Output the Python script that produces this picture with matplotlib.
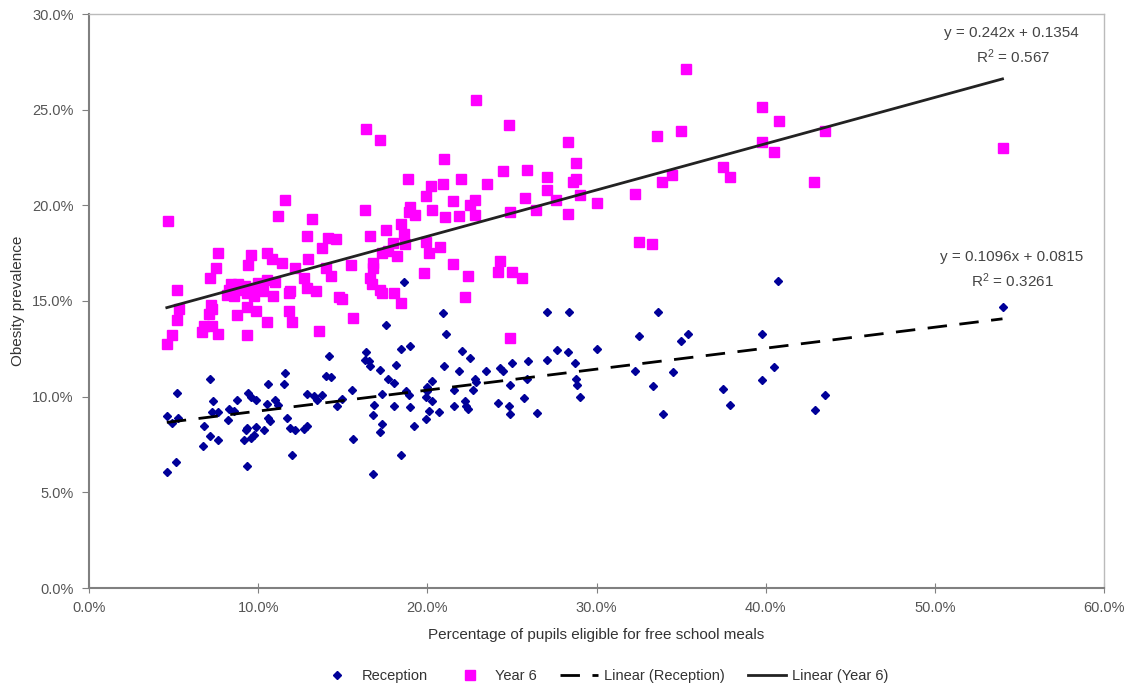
import numpy as np
import matplotlib
matplotlib.use("Agg")
import matplotlib.pyplot as plt
from matplotlib.ticker import FuncFormatter, MultipleLocator

plt.rcParams['font.family'] = ['Liberation Sans', 'DejaVu Sans']

# % eligible for free school meals, % obese  (Reception)
rec_x = [14.18, 11.58, 7.16, 14.0, 14.3, 10.58, 11.5, 5.23, 9.42, 9.56, 9.9, 12.9, 13.3, 13.8, 13.5,
         7.35, 8.73, 10.5, 11.0, 11.2, 14.67, 8.28, 8.57, 7.3, 7.63, 4.6, 5.27, 4.9, 11.7, 10.6,
         10.7, 8.24, 6.8, 9.36, 9.85, 9.26, 10.34, 11.9, 12.15, 12.9, 12.7, 9.75, 9.56, 7.16, 7.63,
         9.17, 6.74, 11.98, 5.17, 9.36, 4.6,
         20.9, 27.06, 17.56, 21.08, 18.47, 18.95, 16.4, 16.3, 16.54, 16.64, 22.05, 22.54, 25.0, 25.93,
         17.2, 18.17, 21.0, 21.9, 23.46, 24.3, 24.5, 27.1, 17.7, 18.0, 20.27, 20.0, 19.98, 22.8,
         22.9, 22.7, 25.9, 24.9, 15.56, 18.76, 18.9, 21.55, 17.3, 14.96, 19.9, 20.3, 16.83, 16.78,
         18.05, 19.0, 20.1, 19.9, 20.7, 21.55, 22.2, 22.3, 22.4, 24.2, 24.8, 24.9, 25.7, 26.5,
         17.3, 17.2, 19.2, 15.6, 18.47, 16.8, 18.6,
         28.35, 33.65, 32.5, 35.0, 35.4, 39.8, 27.65, 28.3, 30.05, 28.7, 28.8, 28.87, 29.0, 32.3,
         33.35, 34.5, 33.94, 40.5, 39.8, 37.5, 37.9, 42.9, 43.5, 54.0, 40.7]
rec_y = [12.15, 11.24, 10.9, 11.07, 11.03, 10.68, 10.68, 10.19, 10.19, 9.98, 9.8, 10.16, 10.05, 10.1, 9.84,
         9.75, 9.84, 9.63, 9.8, 9.58, 9.5, 9.37, 9.23, 9.18, 9.18, 9.0, 8.88, 8.62, 8.88, 8.88,
         8.74, 8.8, 8.48, 8.36, 8.41, 8.27, 8.27, 8.36, 8.24, 8.48, 8.31, 8.0, 7.84, 7.96, 7.75,
         7.75, 7.43, 6.93, 6.61, 6.39, 6.06,
         14.35, 14.43, 13.77, 13.25, 12.5, 12.64, 12.33, 11.94, 11.85, 11.62, 12.4, 12.03, 11.76, 11.88,
         11.4, 11.68, 11.6, 11.36, 11.32, 11.5, 11.32, 11.94, 10.9, 10.7, 10.8, 10.5, 10.28, 10.9,
         10.75, 10.37, 10.9, 10.63, 10.37, 10.28, 10.1, 10.33, 10.14, 9.88, 10.0, 9.75, 9.58, 9.06,
         9.53, 9.46, 9.23, 8.83, 9.2, 9.53, 9.75, 9.53, 9.36, 9.67, 9.53, 9.1, 9.93, 9.15,
         8.59, 8.15, 8.48, 7.78, 6.93, 5.97, 16.0,
         14.43, 14.45, 13.16, 12.9, 13.25, 13.3, 12.46, 12.32, 12.5, 11.76, 10.9, 10.63, 10.0, 11.32,
         10.58, 11.3, 9.1, 11.53, 10.85, 10.42, 9.58, 9.32, 10.07, 14.7, 16.07]

# Year 6
y6_x = [4.68, 11.58, 11.19, 13.2, 12.9, 14.1, 14.6, 13.8, 7.65, 9.6, 10.5, 10.8, 11.4, 12.95, 7.53,
        9.42, 12.17, 14.0, 7.14, 8.4, 8.8, 9.2, 10.0, 10.5, 11.0, 12.7, 14.3, 5.23, 8.18, 8.57,
        9.36, 9.75, 10.3, 10.9, 11.8, 11.9, 12.9, 13.4, 14.8, 7.2, 7.26, 9.36, 9.85, 11.8, 5.33,
        5.2, 7.1, 8.77, 10.5, 12.0, 6.8, 7.3, 7.6, 6.7, 4.9, 4.6, 9.36, 13.6, 8.9, 9.6, 10.2, 8.3,
        22.87, 16.4, 17.2, 24.8, 20.96, 18.84, 22.0, 24.5, 25.9, 27.1, 20.2, 20.9, 23.5, 19.9,
        21.5, 22.8, 22.5, 22.8, 25.8, 27.06, 16.3, 19.0, 18.9, 19.3, 20.3, 21.06, 21.9, 24.9,
        26.45, 17.56, 18.47, 16.6, 18.6, 18.7, 17.97, 19.9, 20.77, 17.3, 17.7, 18.2, 20.1, 16.8,
        16.8, 15.5, 21.5, 24.3, 24.2, 25.0, 25.6, 19.8, 22.4, 16.6, 16.7, 17.2, 17.3, 18.0,
        18.47, 14.96, 22.2, 15.6, 24.9,
        35.3, 39.8, 40.8, 28.3, 33.6, 35.0, 39.8, 40.5, 43.5, 28.8, 28.8, 28.6, 27.6, 28.3,
        29.0, 30.05, 32.3, 33.9, 34.45, 37.5, 37.9, 42.85, 32.5, 33.3, 54.0]
y6_y = [19.18, 20.3, 19.44, 19.3, 18.4, 18.3, 18.25, 17.75, 17.5, 17.4, 17.5, 17.2, 17.0, 17.2, 16.7,
        16.86, 16.7, 16.7, 16.2, 15.9, 15.9, 15.8, 15.95, 16.1, 16.0, 16.2, 16.3, 15.55, 15.3, 15.25,
        15.4, 15.25, 15.5, 15.25, 15.4, 15.5, 15.7, 15.5, 15.2, 14.8, 14.6, 14.7, 14.5, 14.5, 14.6,
        14.0, 14.3, 14.26, 13.9, 13.9, 13.7, 13.7, 13.25, 13.4, 13.2, 12.75, 13.2, 13.45, 15.6, 15.7, 15.7, 15.6,
        25.5, 24.0, 23.4, 24.2, 22.4, 21.4, 21.4, 21.8, 21.85, 21.5, 21.0, 21.1, 21.1, 20.5,
        20.25, 20.3, 20.0, 19.5, 20.4, 20.8, 19.75, 19.9, 19.65, 19.5, 19.75, 19.4, 19.45, 19.65,
        19.74, 18.7, 19.0, 18.4, 18.5, 17.96, 18.05, 18.1, 17.84, 17.5, 17.6, 17.35, 17.5, 17.0,
        16.74, 16.9, 16.95, 17.1, 16.5, 16.5, 16.2, 16.45, 16.3, 16.2, 15.9, 15.6, 15.4, 15.4,
        14.87, 15.1, 15.2, 14.1, 13.07,
        27.1, 25.15, 24.4, 23.3, 23.6, 23.86, 23.3, 22.8, 23.9, 22.2, 21.4, 21.2, 20.3, 19.56,
        20.55, 20.1, 20.6, 21.2, 21.6, 22.0, 21.5, 21.2, 18.1, 18.0, 23.0]

# trendline equations shown on the chart (fractions)
rec_slope, rec_icpt, rec_r2 = 0.1096, 0.0815, 0.3261
y6_slope, y6_icpt, y6_r2 = 0.242, 0.1354, 0.567

fig = plt.figure(figsize=(11.26, 6.88), dpi=100)
ax = fig.add_axes([89 / 1126, 1 - 588 / 688, (1104 - 89) / 1126, (588 - 14) / 688])

ax.plot(rec_x, rec_y, linestyle='none', marker='D', markersize=4.3,
        color='#000099', label='Reception', zorder=3)
ax.plot(y6_x, y6_y, linestyle='none', marker='s', markersize=6.5,
        color='#FF00FF', label='Year 6', zorder=3)

xr = np.array([min(rec_x), max(rec_x)])
ax.plot(xr, 100 * (rec_slope * xr / 100 + rec_icpt), color='black', lw=2,
        dashes=(7, 4.5), label='Linear (Reception)', zorder=4)
xy = np.array([min(y6_x), max(y6_x)])
ax.plot(xy, 100 * (y6_slope * xy / 100 + y6_icpt), color='#222222', lw=2,
        label='Linear (Year 6)', zorder=4)

ax.set_xlim(0, 60)
ax.set_ylim(0, 30)
ax.xaxis.set_major_locator(MultipleLocator(10))
ax.yaxis.set_major_locator(MultipleLocator(5))
pct = FuncFormatter(lambda v, p: '%.1f%%' % v)
ax.xaxis.set_major_formatter(pct)
ax.yaxis.set_major_formatter(pct)

for s in ['left', 'bottom']:
    ax.spines[s].set_color('#808080')
    ax.spines[s].set_linewidth(1.5)
for s in ['top', 'right']:
    ax.spines[s].set_color('#BBBBBB')
    ax.spines[s].set_linewidth(1.0)

ax.tick_params(axis='y', direction='out', length=5, color='#808080', labelcolor='#555555',
               labelsize=10.5, pad=6)
ax.tick_params(axis='x', direction='inout', length=7, color='#808080', labelcolor='#555555',
               labelsize=10.5, pad=6)

ax.set_xlabel('Percentage of pupils eligible for free school meals', fontsize=11,
              color='#333333', labelpad=9)
ax.set_ylabel('Obesity prevalence', fontsize=11, color='#333333', labelpad=5)

tc = '#444444'
ax.text(54.55, 29.0, 'y = %gx + %g' % (y6_slope, y6_icpt), fontsize=11, color=tc, ha='center', va='center')
ax.text(54.6, 27.76, '$\\mathregular{R^2}$ = %g' % y6_r2, fontsize=11, color=tc, ha='center', va='center')
ax.text(54.55, 17.3, 'y = %gx + %g' % (rec_slope, rec_icpt), fontsize=11, color=tc, ha='center', va='center')
ax.text(54.6, 16.05, '$\\mathregular{R^2}$ = %g' % rec_r2, fontsize=11, color=tc, ha='center', va='center')

fig.legend(loc='center', bbox_to_anchor=(603 / 1126, 1 - 676 / 688), ncol=4, frameon=False,
           fontsize=10.5, handlelength=2.6, columnspacing=1.6, handletextpad=0.4,
           labelcolor='#333333')

fig.savefig('out.png', dpi=100)
